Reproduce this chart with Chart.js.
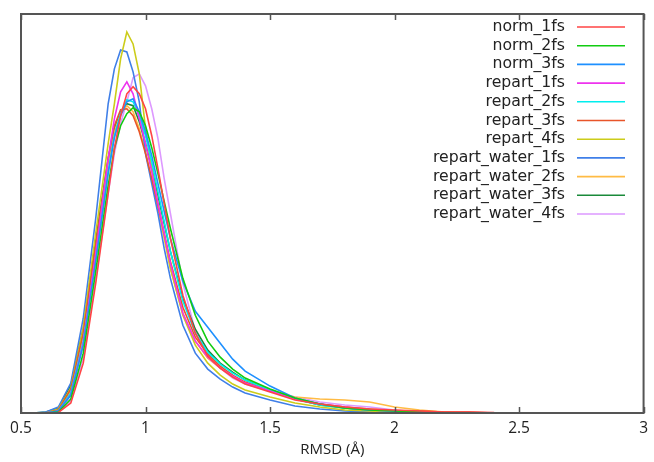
<!DOCTYPE html>
<html lang="en">
<head>
    <meta charset="UTF-8">
    <title>RMSD distribution</title>
    <style>
        html, body { margin: 0; padding: 0; background: #fff; }
        #wrap { width: 654px; height: 462px; position: relative; }
    </style>
</head>
<body>
<div id="wrap"><canvas id="myChart" width="654" height="462"></canvas></div>

<script src="https://cdn.jsdelivr.net/npm/chart.js@4/dist/chart.umd.min.js"></script>
<script>
    // RMSD bins (Å)
    var rmsd = [0.55, 0.6, 0.65, 0.7, 0.75, 0.8, 0.85, 0.875, 0.9, 0.925, 0.95, 0.975, 1.0, 1.025, 1.05, 1.075, 1.1,
        1.15, 1.2, 1.25, 1.3, 1.35, 1.4, 1.5, 1.6, 1.7, 1.8, 1.9, 2.0, 2.1, 2.2, 2.3, 2.4];

    var xTicks = [0.5, 1, 1.5, 2, 2.5, 3];

    // frequency (arbitrary units), one array per run
    var norm_1fs = [0, 0, 0.005, 0.1, 0.5, 1.3, 2.2, 2.65, 2.98, 3.2, 3.27, 3.2, 3.05, 2.78, 2.45, 2.1, 1.75,
        1.18, 0.8, 0.57, 0.45, 0.36, 0.29, 0.21, 0.13, 0.09, 0.06, 0.04, 0.03, 0.02, 0.01, 0.01, 0.005];
    var norm_2fs = [0, 0, 0.01, 0.14, 0.6, 1.42, 2.28, 2.65, 2.88, 3.0, 3.06, 3.02, 2.88, 2.66, 2.4, 2.12, 1.85,
        1.35, 0.98, 0.72, 0.56, 0.44, 0.35, 0.24, 0.15, 0.09, 0.05, 0.03, 0.02, 0.01, 0, null, null];
    var norm_3fs = [0, 0, 0.02, 0.18, 0.68, 1.52, 2.4, 2.76, 2.98, 3.12, 3.15, 3.02, 2.82, 2.58, 2.3, 2.02, 1.75,
        1.32, 1.02, 0.86, 0.7, 0.54, 0.42, 0.27, 0.15, 0.09, 0.05, 0.03, 0.02, 0.01, 0, null, null];
    var repart_1fs = [0, 0, 0.02, 0.18, 0.7, 1.6, 2.55, 2.95, 3.22, 3.32, 3.2, 2.95, 2.7, 2.42, 2.1, 1.8, 1.5,
        1.0, 0.72, 0.56, 0.45, 0.37, 0.3, 0.22, 0.14, 0.09, 0.06, 0.03, 0.02, 0.01, 0, null, null];
    var repart_2fs = [0, 0, 0.02, 0.2, 0.72, 1.55, 2.42, 2.78, 3.0, 3.14, 3.12, 2.98, 2.78, 2.52, 2.22, 1.92, 1.62,
        1.12, 0.8, 0.61, 0.49, 0.4, 0.33, 0.23, 0.14, 0.08, 0.05, 0.03, 0.02, 0.01, 0, null, null];
    var repart_3fs = [0, 0, 0.03, 0.24, 0.8, 1.68, 2.55, 2.88, 3.04, 3.05, 2.98, 2.82, 2.6, 2.35, 2.08, 1.8, 1.52,
        1.06, 0.76, 0.59, 0.47, 0.38, 0.31, 0.22, 0.14, 0.09, 0.06, 0.04, 0.02, 0.02, 0.01, 0.01, 0];
    var repart_4fs = [0, 0, 0.04, 0.25, 0.85, 1.8, 2.7, 3.1, 3.55, 3.82, 3.7, 3.4, 2.85, 2.45, 2.1, 1.78, 1.45,
        0.98, 0.68, 0.5, 0.38, 0.29, 0.23, 0.16, 0.1, 0.06, 0.03, 0.02, 0.01, 0.005, 0, null, null];
    var repart_water_1fs = [0, 0.01, 0.06, 0.3, 0.95, 1.95, 3.1, 3.45, 3.64, 3.62, 3.42, 3.12, 2.6, 2.3, 2.0, 1.65, 1.35,
        0.88, 0.6, 0.44, 0.34, 0.26, 0.2, 0.13, 0.07, 0.04, 0.02, 0.01, 0.01, 0, null, null, null];
    var repart_water_2fs = [0, 0, 0.03, 0.22, 0.78, 1.65, 2.5, 2.82, 3.0, 3.08, 3.02, 2.85, 2.62, 2.35, 2.05, 1.75, 1.45,
        1.0, 0.72, 0.55, 0.45, 0.36, 0.3, 0.22, 0.16, 0.14, 0.13, 0.11, 0.06, 0.03, 0.01, 0, null];
    var repart_water_3fs = [0, 0.01, 0.05, 0.28, 0.85, 1.72, 2.55, 2.85, 3.02, 3.1, 3.08, 2.92, 2.7, 2.45, 2.18, 1.9, 1.62,
        1.15, 0.84, 0.63, 0.5, 0.41, 0.33, 0.23, 0.14, 0.08, 0.05, 0.03, 0.02, 0.01, 0, null, null];
    var repart_water_4fs = [0, 0, 0.01, 0.12, 0.55, 1.35, 2.2, 2.6, 2.9, 3.12, 3.36, 3.4, 3.28, 3.05, 2.75, 2.35, 2.0,
        1.3, 0.82, 0.57, 0.45, 0.35, 0.29, 0.22, 0.16, 0.11, 0.08, 0.06, 0.03, 0.01, 0, null, null];

    var names = ['norm_1fs', 'norm_2fs', 'norm_3fs', 'repart_1fs', 'repart_2fs', 'repart_3fs', 'repart_4fs',
        'repart_water_1fs', 'repart_water_2fs', 'repart_water_3fs', 'repart_water_4fs'];
    var series = [norm_1fs, norm_2fs, norm_3fs, repart_1fs, repart_2fs, repart_3fs, repart_4fs,
        repart_water_1fs, repart_water_2fs, repart_water_3fs, repart_water_4fs];
    var colors = ['#ff4444', '#11cc11', '#1e90ff', '#ee33ee', '#00eeee', '#e8552a', '#cccc1a',
        '#3f7fe8', '#ffbb44', '#1a8a3a', '#dd99ff'];

    var datasets = series.map(function(arr, i) {
        return {
            label: names[i],
            data: rmsd.map(function(x, j) { return { x: x, y: arr[j] }; }),
            borderColor: colors[i],
            backgroundColor: colors[i],
            borderWidth: 1.6,
            pointRadius: 0,
            tension: 0,
            spanGaps: false
        };
    });

    // frame, inward ticks and the gnuplot-like key
    var framePlugin = {
        id: 'frame',
        afterDraw: function(chart) {
            var ctx = chart.ctx, a = chart.chartArea, xs = chart.scales.x;
            ctx.save();
            ctx.strokeStyle = '#555';
            ctx.lineWidth = 2;
            ctx.strokeRect(a.left, a.top, a.right - a.left, a.bottom - a.top);
            ctx.lineWidth = 1.5;
            ctx.beginPath();
            xTicks.forEach(function(t) {
                var px = Math.round(xs.getPixelForValue(t)) + 0.5;
                ctx.moveTo(px, a.bottom); ctx.lineTo(px, a.bottom - 6);
                ctx.moveTo(px, a.top); ctx.lineTo(px, a.top + 6);
            });
            ctx.stroke();

            ctx.font = '15.7px "DejaVu Sans"';
            ctx.textAlign = 'right';
            ctx.textBaseline = 'middle';
            names.forEach(function(n, i) {
                var y = 27 + i * 18.7;
                ctx.fillStyle = '#222';
                ctx.fillText(n, 565, y);
                ctx.strokeStyle = colors[i];
                ctx.lineWidth = 1.6;
                ctx.beginPath();
                ctx.moveTo(577, y); ctx.lineTo(625, y);
                ctx.stroke();
            });
            ctx.restore();
        }
    };

    var ctx = document.getElementById('myChart').getContext('2d');
    var myChart = new Chart(ctx, {
        type: 'line',
        data: { datasets: datasets },
        plugins: [framePlugin],
        options: {
            responsive: false,
            animation: false,
            layout: { padding: { left: 21, right: 8, top: 14, bottom: 0 } },
            plugins: { legend: { display: false }, tooltip: { enabled: false } },
            scales: {
                x: {
                    type: 'linear',
                    min: 0.5,
                    max: 3,
                    afterBuildTicks: function(scale) {
                        scale.ticks = xTicks.map(function(v) { return { value: v }; });
                    },
                    afterFit: function(scale) { scale.height = 49; },
                    grid: { display: false, drawTicks: false },
                    border: { display: false },
                    ticks: {
                        padding: 6,
                        color: '#222',
                        maxRotation: 0,
                        font: { family: '"Open Sans"', size: 15.5 },
                        callback: function(v) { return String(v); }
                    },
                    title: {
                        display: true,
                        text: 'RMSD (Å)',
                        color: '#222',
                        font: { family: '"Open Sans"', size: 15 },
                        padding: { top: 0, bottom: 3 }
                    }
                },
                y: {
                    display: false,
                    min: 0,
                    max: 4
                }
            }
        }
    });
</script>
</body>
</html>
